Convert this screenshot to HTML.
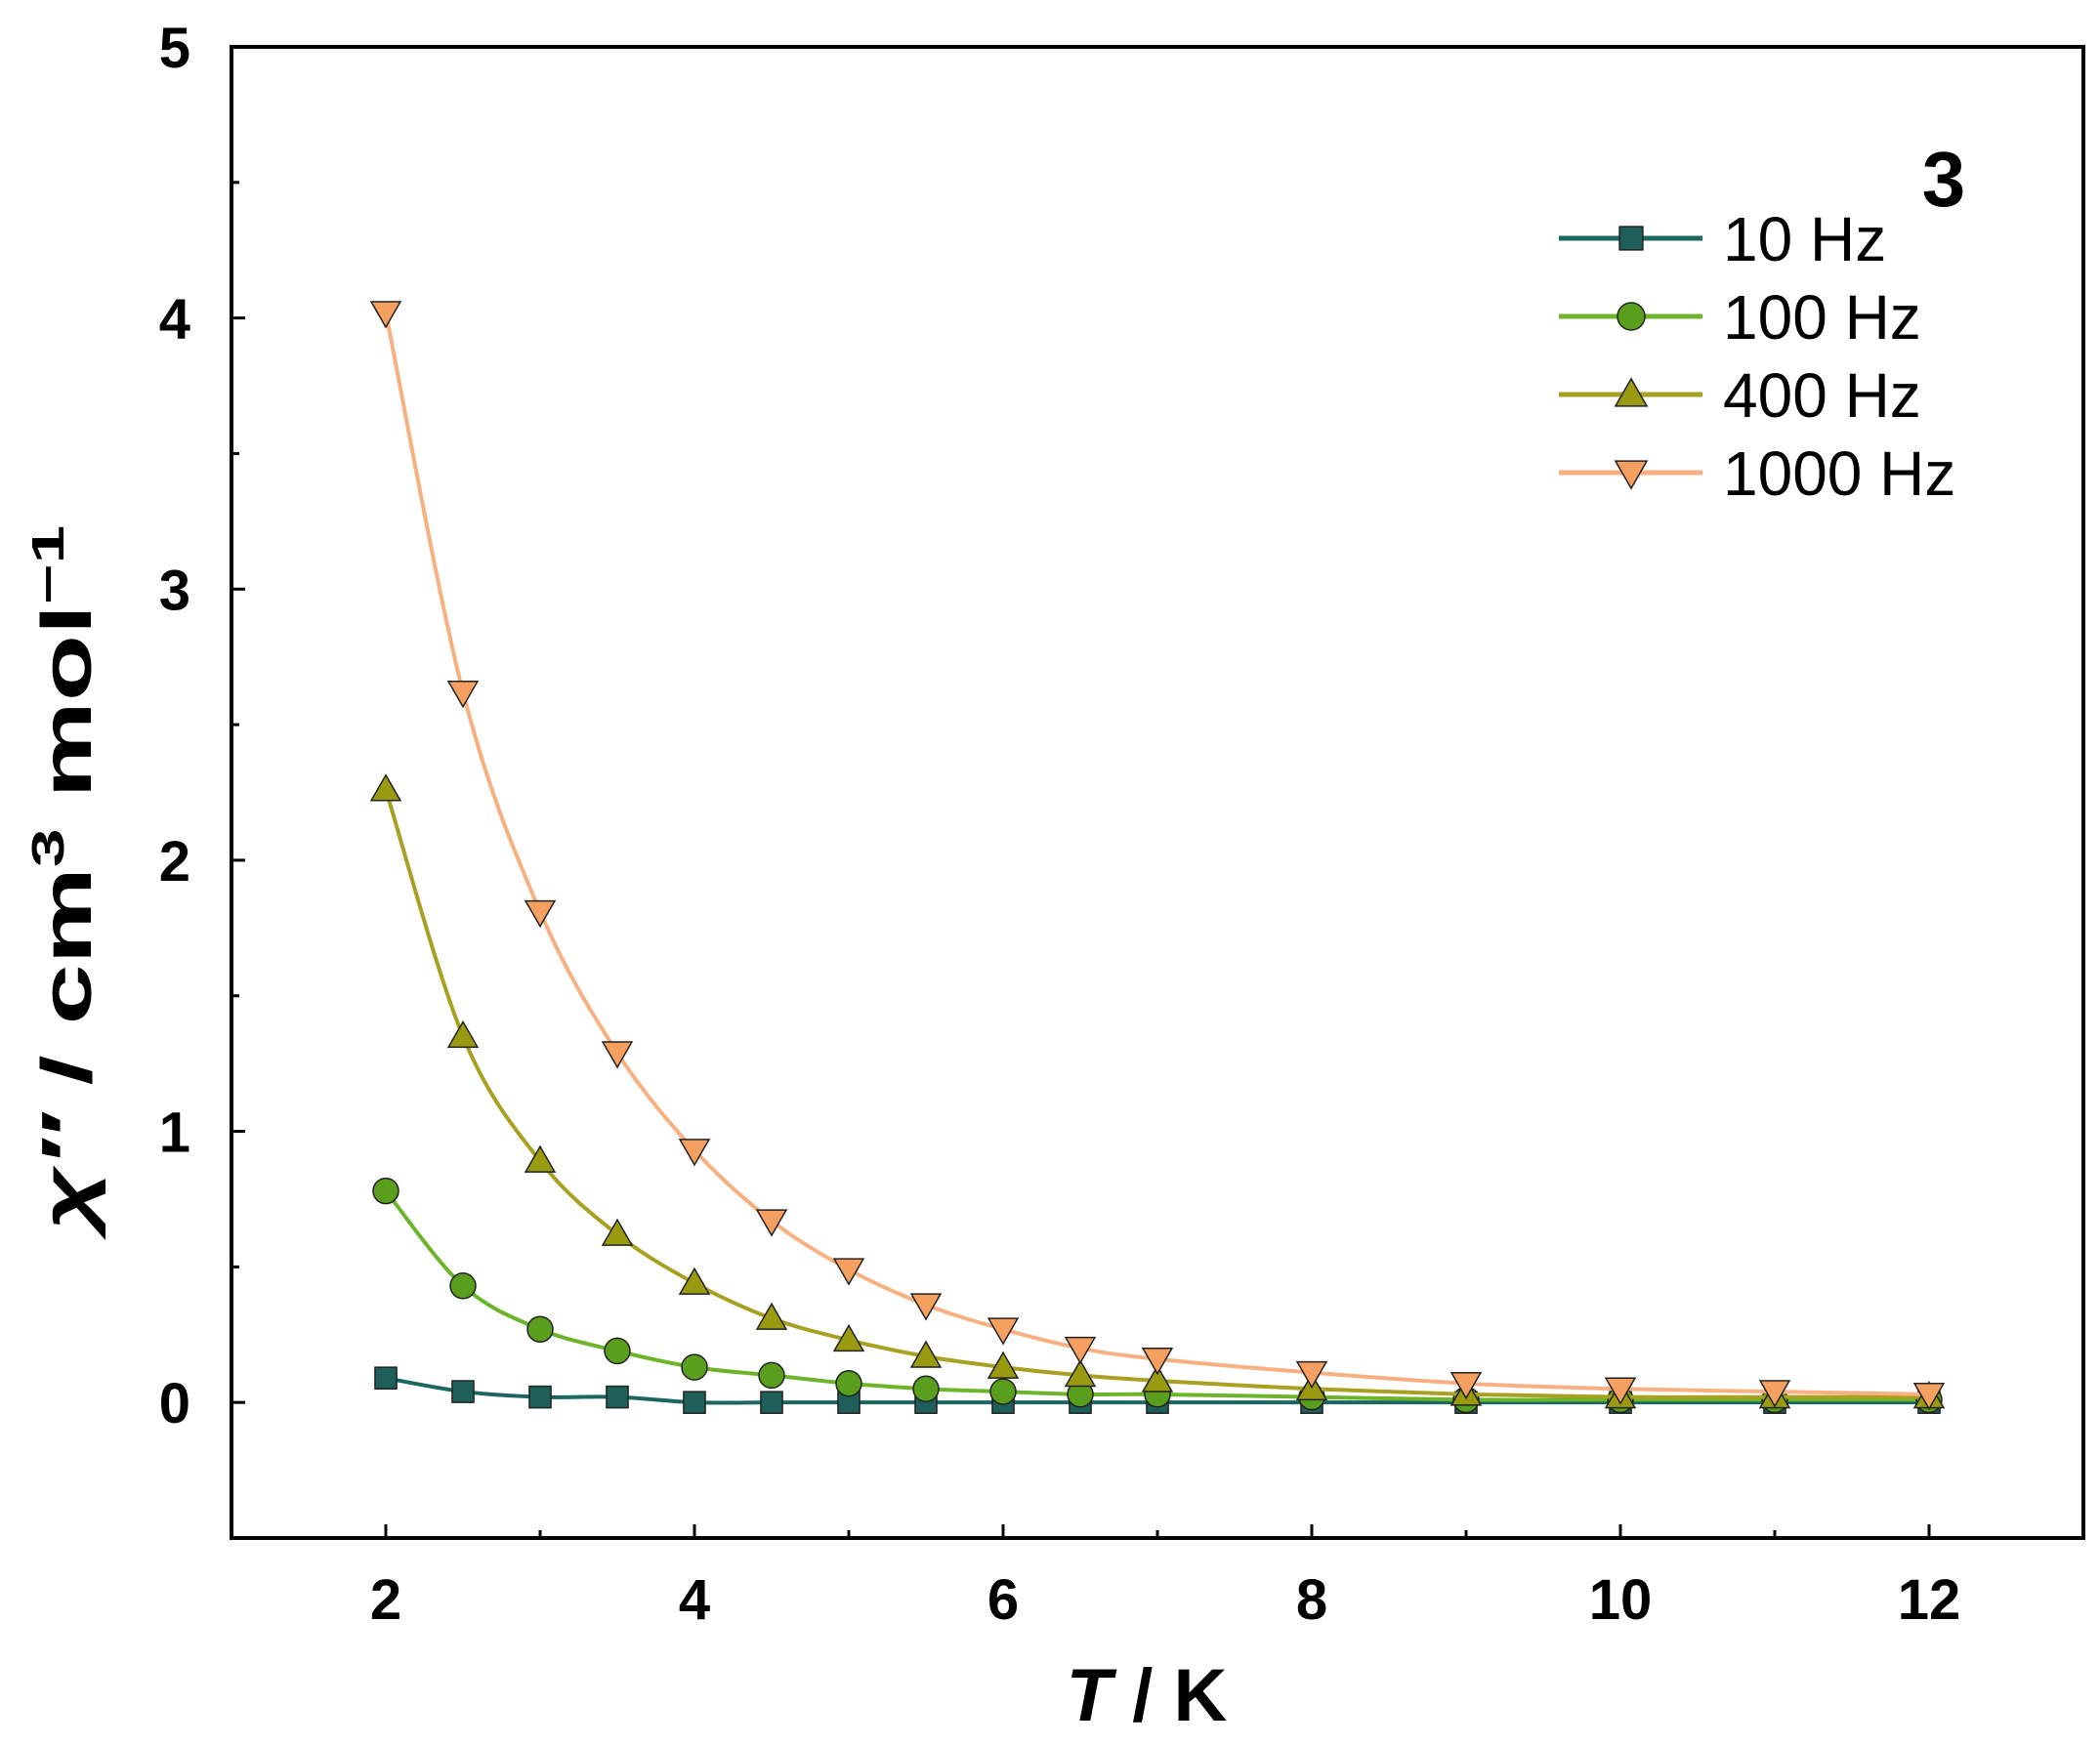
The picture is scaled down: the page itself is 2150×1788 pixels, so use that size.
<!DOCTYPE html>
<html><head><meta charset="utf-8"><style>
html,body{margin:0;padding:0;background:#fff}
svg text{font-family:"Liberation Sans",Arial,sans-serif}
</style></head><body>
<svg id="chart" width="2150" height="1783" viewBox="0 0 2150 1783" xmlns="http://www.w3.org/2000/svg">
<g id="plot"></g>
</svg>
<script>
const temps = [2,2.5,3,3.5,4,4.5,5,5.5,6,6.5,7,8,9,10,11,12];
const s10 = [0.09,0.04,0.02,0.02,0.0,0.0,0.0,0.0,0.0,0.0,0.0,0.0,0.0,0.0,0.0,0.0];
const s100 = [0.78,0.43,0.27,0.19,0.13,0.10,0.07,0.05,0.04,0.03,0.03,0.02,0.01,0.01,0.01,0.01];
const s400 = [2.26,1.35,0.89,0.62,0.44,0.31,0.23,0.17,0.13,0.10,0.08,0.05,0.03,0.02,0.02,0.02];
const s1000 = [4.02,2.62,1.81,1.29,0.93,0.67,0.49,0.36,0.27,0.20,0.16,0.11,0.07,0.05,0.04,0.03];
const xTicks = [2,4,6,8,10,12];
const yTicks = [0,1,2,3,4,5];
const seriesNames = ["10 Hz","100 Hz","400 Hz","1000 Hz"];

const L=237,R=2133,T=48,B=1575;
const X0=1,X1=13,Y0=-0.5,Y1=5;
const xs=v=>L+(v-X0)/(X1-X0)*(R-L);
const ys=v=>B-(v-Y0)/(Y1-Y0)*(B-T);
const NS="http://www.w3.org/2000/svg";
const g=document.getElementById('plot');
function mk(tag,attrs,parent){const e=document.createElementNS(NS,tag);for(const k in attrs)e.setAttribute(k,attrs[k]);(parent||g).appendChild(e);return e;}

let fr=mk('rect',{x:L,y:T,width:R-L,height:B-T,fill:'none',stroke:'#000','stroke-width':4});



for(let v=1;v<=13;v+=1){
  const major=xTicks.includes(v);const len=major?14:8;
  let t=mk('line',{x1:xs(v),x2:xs(v),y1:B,y2:B-len,stroke:'#000','stroke-width':3});
  
  
}
xTicks.forEach(v=>{
  let t=mk('text',{x:xs(v),y:1658,'text-anchor':'middle','font-size':58,'font-weight':'bold'});
  t.textContent=v;
  
  
});
for(let i=-1;i<=10;i++){
  const v=i*0.5;const major=yTicks.includes(v);const len=major?14:8;
  let t=mk('line',{x1:L,x2:L+len,y1:ys(v),y2:ys(v),stroke:'#000','stroke-width':3});
  
  
}
yTicks.forEach(v=>{
  let t=mk('text',{x:L-42,y:ys(v)+21,'text-anchor':'end','font-size':58,'font-weight':'bold'});
  t.textContent=v;
  
  
});

let xt=mk('text',{x:1174,y:1762,'text-anchor':'middle','font-size':76,'font-weight':'bold'});
xt.innerHTML='<tspan font-style="italic">T</tspan> / K';


let yt=mk('text',{x:0,y:0,'text-anchor':'middle','font-size':72,'font-weight':'bold',transform:'translate(93,899) rotate(-90) scale(1.55,1)'});
yt.innerHTML='<tspan font-style="italic">χ″</tspan> / cm<tspan dy="-28" font-size="46">3</tspan><tspan dy="28"> mol</tspan><tspan dy="-28" font-size="46">−1</tspan>';



let lab=mk('text',{x:1990,y:211,'text-anchor':'middle','font-size':80,'font-weight':'bold'});
lab.textContent='3';



const styles=[
 {line:'#1b6660',fill:'#1e5f5a',m:'square'},
 {line:'#6cb52a',fill:'#5a9e1e',m:'circle'},
 {line:'#a8a020',fill:'#9a9a10',m:'up'},
 {line:'#f8b080',fill:'#f5a060',m:'down'}];
const data=[s10,s100,s400,s1000];

function marker(type,cx,cy,st,parent,r){
  r=r||13;let e;
  const a={fill:st.fill,stroke:'#222','stroke-width':1.5};
  if(type==='square')e=mk('rect',Object.assign({x:cx-r*0.85,y:cy-r*0.85,width:r*1.7,height:r*1.7},a),parent);
  else if(type==='circle')e=mk('circle',Object.assign({cx,cy,r},a),parent);
  else if(type==='up')e=mk('polygon',Object.assign({points:`${cx},${cy-r*1.15} ${cx-r*1.15},${cy+r*0.85} ${cx+r*1.15},${cy+r*0.85}`},a),parent);
  else e=mk('polygon',Object.assign({points:`${cx},${cy+r*1.15} ${cx-r*1.15},${cy-r*0.85} ${cx+r*1.15},${cy-r*0.85}`},a),parent);
  return e;
}
function spline(pts){
  let d=`M${pts[0][0]},${pts[0][1]}`;
  for(let i=0;i<pts.length-1;i++){
    const p0=pts[i-1]||pts[i],p1=pts[i],p2=pts[i+1],p3=pts[i+2]||p2;
    const c1=[p1[0]+(p2[0]-p0[0])/6,p1[1]+(p2[1]-p0[1])/6];
    const c2=[p2[0]-(p3[0]-p1[0])/6,p2[1]-(p3[1]-p1[1])/6];
    d+=` C${c1[0]},${c1[1]} ${c2[0]},${c2[1]} ${p2[0]},${p2[1]}`;
  }
  return d;
}
data.forEach((arr,si)=>{
  const st=styles[si];
  const sg=mk('g',{});
  
  
  const pts=temps.map((t,i)=>[xs(t),ys(arr[i])]);
  let p=mk('path',{d:spline(pts),fill:'none',stroke:st.line,'stroke-width':4},sg);
  
  
  pts.forEach(q=>{
    let m=marker(st.m,q[0],q[1],st,sg);
    
    
  });
});

const lg=mk('g',{});


const rowsY=[244,324,404,484];
seriesNames.forEach((n,i)=>{
  const st=styles[i];
  const eg=mk('g',{},lg);
  
  
  mk('line',{x1:1596,x2:1743,y1:rowsY[i],y2:rowsY[i],stroke:st.line,'stroke-width':5},eg);
  marker(st.m,1670,rowsY[i],st,eg,14);
  let t=mk('text',{x:1764,y:rowsY[i]+23,'font-size':64},eg);
  t.textContent=n;
});
</script>
</body></html>
